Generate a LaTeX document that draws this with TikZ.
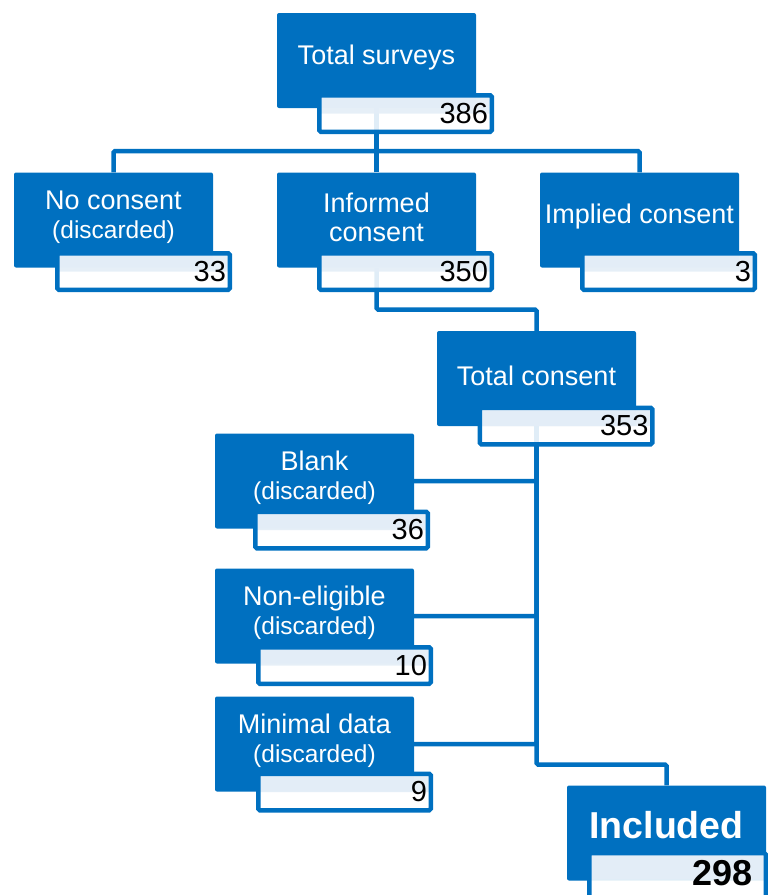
\documentclass[tikz,border=0pt]{standalone}
\usepackage{fontspec}
\setmainfont{Liberation Sans}
\usetikzlibrary{backgrounds}
\definecolor{boxblue}{HTML}{0070C0}
\definecolor{boxpale}{HTML}{E4EEF7}
\tikzstyle{stage} = [
  fill=boxblue,
  rounded corners=2pt,
  minimum width=199pt,
  minimum height=95pt,
]
\tikzstyle{stagetext} = [
  text=white,
  align=center,
  yshift=3pt,
  font=\fontsize{27}{29}\selectfont,
]
\tikzstyle{count} = [
  draw=boxblue,
  line width=4.5pt,
  rounded corners=1.5pt,
  fill=white,
  fill opacity=0.88,
  text opacity=1,
  minimum width=172.5pt,
  minimum height=36.5pt,
  text width=165pt,
  inner xsep=0pt,
  align=right,
  font=\fontsize{29}{29}\selectfont,
  path picture={
    \fill[boxpale, fill opacity=0.88]
      (path picture bounding box.north west)
      rectangle (path picture bounding box.east);
  },
]
\tikzstyle{link} = [
  draw=boxblue,
  line width=4.5pt,
  rounded corners=1.5pt,
]
\begin{document}
\begin{tikzpicture}[
    x=1pt,
    y=-1pt,
  ]
  \useasboundingbox (0,0) rectangle (768,895);
  % stages
  \node[
    stage,
    label={[stagetext]center:Total surveys},
  ](tot) at (376.5,60.5){};
  \node[
    stage,
    label={[stagetext]center:{No consent\\{\fontsize{24.5}{28}\selectfont(discarded)}}},
  ](nocon) at (113.5,220){};
  \node[
    stage,
    label={[stagetext]center:{Informed\\consent}},
  ](inf) at (376.5,220){};
  \node[
    stage,
    label={[stagetext]center:Implied consent},
  ](imp) at (639.5,220){};
  \node[
    stage,
    label={[stagetext]center:Total consent},
  ](totc) at (536.5,378.5){};
  \node[
    stage,
    label={[stagetext]center:{Blank\\{\fontsize{24.5}{28}\selectfont(discarded)}}},
  ](blank) at (314.5,481){};
  \node[
    stage,
    label={[stagetext]center:{Non-eligible\\{\fontsize{24.5}{28}\selectfont(discarded)}}},
  ](nonel) at (314.5,616){};
  \node[
    stage,
    label={[stagetext]center:{Minimal data\\{\fontsize{24.5}{28}\selectfont(discarded)}}},
  ](mini) at (314.5,744){};
  \node[
    stage,
    label={[stagetext,yshift=5pt,font=\fontsize{37.5}{39}\selectfont\bfseries]center:Included},
  ](incl) at (666.5,833){};
  % counts
  \node[count](totn) at (405.5,113.5){386};
  \node[count](noconn) at (143.5,271.5){33};
  \node[count](infn) at (405.5,271.5){350};
  \node[count](impn) at (668.5,271.5){3};
  \node[count](totcn) at (566,426){353};
  \node[count](blankn) at (341.5,530){36};
  \node[count](noneln) at (344.5,665.5){10};
  \node[count](minin) at (344.5,792){9};
  \node[
    count,
    minimum width=176.5pt,
    minimum height=52pt,
    text width=151pt,
    text depth=12pt,
    font=\fontsize{36}{36}\selectfont\bfseries,
  ](incln) at (677.5,879){298};
  % connectors
  \begin{scope}[on background layer]
    \coordinate (split) at (376.5,151);
    \coordinate (merge) at (376.5,309.5);
    \coordinate (keep) at (536.5,764.5);
    \path[link] (tot) -- (split);
    \path[link] (nocon) |- (split) -| (imp);
    \path[link] (inf) -- (split);
    \path[link] (inf) -- (merge) -| (totc);
    \path[link] (totc) -- (keep) -| (incl);
    \path[link] (blank) -| (totc);
    \path[link] (nonel) -| (totc);
    \path[link] (mini) -| (totc);
  \end{scope}
\end{tikzpicture}
\end{document}
